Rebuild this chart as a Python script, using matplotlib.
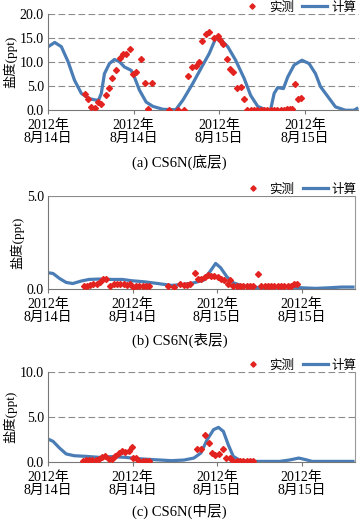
import matplotlib
matplotlib.use('Agg')
import matplotlib.pyplot as plt
from matplotlib.transforms import ScaledTranslation

plt.rcParams['font.family'] = ['Liberation Serif', 'Noto Sans CJK SC']

# x in hours from the first tick (2012-08-14)
tick_hours = [0, 12, 24, 36]
tick_labels = ['2012年\n8月14日', '2012年\n8月14日', '2012年\n8月15日', '2012年\n8月15日']

# (a) bottom layer
a_calc_h = [0.0, 0.93, 1.86, 2.8, 3.7, 4.66, 5.8, 6.76, 7.1, 7.46, 7.9, 8.6, 9.3, 10.0, 10.7, 11.65, 12.1,
            12.8, 13.75, 14.7, 16.1, 17.9, 18.9, 20.3, 21.7, 22.6, 23.4, 23.8, 24.2, 25.2, 26.3, 27.5, 28.4,
            29.4, 30.5, 31.2, 31.7, 32.2, 33.0, 33.6, 34.5, 35.6, 36.6, 37.5, 38.2, 39.1, 40.3, 41.7, 42.9, 43.3]
a_calc_v = [13.2, 14.1, 13.2, 10.1, 6.25, 3.5, 2.4, 2.1, 2.2, 3.5, 7.6, 9.7, 10.55, 10.1, 9.0, 8.3, 6.9,
            4.2, 1.7, 0.8, 0.2, 0.1, 2.1, 5.6, 9.4, 11.8, 14.6, 15.1, 14.7, 13.2, 10.4, 6.6, 3.1,
            0.8, 0.1, 0.1, 3.5, 4.7, 4.5, 6.9, 9.4, 10.4, 9.7, 7.6, 4.9, 3.1, 0.7, 0.0, 0.0, 0.35]
a_obs_h = [5.13, 5.59, 6.06, 6.52, 6.99, 7.46, 8.06, 8.53, 8.99, 9.46, 10.02, 10.48, 10.95, 11.51, 11.88,
           12.35, 13.05, 13.61, 14.07, 14.54, 17.01, 18.17, 19.01, 19.57, 20.18, 20.74, 21.2, 21.58, 22.13,
           22.6, 23.21, 23.77, 24.09, 24.56, 25.02, 25.49, 25.96, 26.56, 27.03, 27.49, 27.96, 28.42, 28.89,
           29.36, 29.82, 30.29, 30.75, 31.22, 31.69, 32.15, 32.62, 33.08, 33.55, 33.92, 34.25, 34.62, 35.04, 35.51]
a_obs_v = [3.3, 2.3, 0.7, 0.5, 1.7, 1.2, 3.1, 4.7, 6.6, 8.3, 10.8, 11.7, 11.7, 12.8, 7.5,
           8.0, 10.6, 5.6, 0.35, 5.6, 0.0, 0.1, 0.1, 7.1, 9.0, 9.2, 10.1, 14.4, 15.8,
           16.2, 15.1, 15.4, 14.6, 13.75, 10.6, 8.5, 8.0, 4.65, 4.9, 2.4, 0.1, 0.1, 0.1,
           0.1, 0.1, 0.1, 0.1, 0.1, 0.1, 0.1, 0.1, 0.1, 0.2, 0.3, 0.35, 5.4, 2.3, 2.5]

# (b) surface layer
b_calc_h = [0.0, 0.7, 1.63, 2.56, 3.5, 4.66, 5.8, 7.2, 9.1, 10.5, 11.9, 13.75, 15.6, 17.5, 19.3, 20.7, 22.1,
            23.1, 23.8, 24.5, 25.4, 26.3, 27.7, 29.6, 31.5, 33.8, 36.1, 38.0, 39.8, 41.7, 43.3]
b_calc_v = [0.88, 0.84, 0.57, 0.36, 0.3, 0.43, 0.52, 0.54, 0.52, 0.52, 0.45, 0.39, 0.3, 0.2, 0.25, 0.34, 0.48,
            1.0, 1.38, 1.15, 0.66, 0.34, 0.16, 0.09, 0.09, 0.13, 0.07, 0.04, 0.07, 0.11, 0.11]
b_obs_h = [5.03, 5.5, 5.96, 6.43, 6.9, 7.36, 7.83, 8.29, 8.85, 9.32, 9.79, 10.25, 10.72, 11.18, 11.65, 12.12,
           12.49, 12.95, 13.42, 13.89, 14.35, 17.01, 17.94, 18.78, 19.24, 19.71, 20.18, 20.83, 21.3, 21.76,
           22.23, 22.7, 23.16, 23.63, 24.09, 24.56, 25.02, 25.49, 25.86, 26.33, 26.79, 27.26, 27.73, 28.19,
           28.66, 29.12, 29.82, 30.29, 30.75, 31.22, 31.69, 32.15, 32.62, 33.08, 33.55, 34.02, 34.48, 34.95, 35.41]
b_obs_v = [0.16, 0.16, 0.2, 0.25, 0.3, 0.4, 0.57, 0.57, 0.18, 0.27, 0.3, 0.3, 0.27, 0.2, 0.3, 0.13,
           0.16, 0.18, 0.16, 0.16, 0.16, 0.16, 0.09, 0.25, 0.2, 0.2, 0.25, 0.88, 0.57, 0.57,
           0.66, 0.75, 0.7, 0.72, 0.66, 0.57, 0.48, 0.3, 0.48, 0.16, 0.16, 0.16, 0.16, 0.16,
           0.16, 0.16, 0.79, 0.16, 0.16, 0.16, 0.16, 0.16, 0.16, 0.16, 0.16, 0.16, 0.16, 0.27, 0.3]

# (c) middle layer
c_calc_h = [0.0, 0.7, 1.63, 2.56, 3.7, 5.4, 7.2, 9.1, 10.95, 12.8, 15.1, 17.5, 19.3, 20.7, 21.7, 22.6, 23.5,
            24.2, 24.9, 25.6, 26.3, 27.3, 29.6, 32.9, 34.25, 35.6, 36.6, 37.5, 39.8, 43.3]
c_calc_v = [2.55, 2.3, 1.55, 0.9, 0.7, 0.63, 0.52, 0.6, 0.52, 0.37, 0.26, 0.15, 0.22, 0.44, 1.0, 2.5, 3.6,
            3.85, 3.4, 1.9, 0.63, 0.15, 0.07, 0.07, 0.22, 0.44, 0.26, 0.07, 0.07, 0.07]
c_obs_h = [4.89, 5.36, 5.82, 6.29, 6.76, 7.22, 7.69, 8.15, 8.62, 9.09, 9.55, 10.02, 10.48, 10.95, 11.42, 11.88,
           12.12, 12.44, 12.95, 13.42, 13.89, 14.35, 21.2, 21.76, 22.23, 22.83, 23.3, 23.77, 24.23, 24.84,
           25.3, 25.77, 26.23, 26.79, 27.26, 27.73, 28.19, 28.66, 29.12]
c_obs_v = [0.15, 0.19, 0.22, 0.26, 0.26, 0.37, 0.55, 0.63, 0.33, 0.33, 0.63, 1.0, 1.18, 1.1, 1.26, 1.63,
           0.44, 0.44, 0.15, 0.15, 0.15, 0.15, 1.48, 1.44, 2.96, 2.1, 1.0, 0.81, 0.93, 1.44,
           0.44, 0.44, 0.15, 0.15, 0.15, 0.15, 0.15, 0.15, 0.15]

panels = [
    ('(a) CS6N(底层)', a_calc_h, a_calc_v, a_obs_h, a_obs_v, 20, [0, 5, 10, 15, 20]),
    ('(b) CS6N(表层)', b_calc_h, b_calc_v, b_obs_h, b_obs_v, 5, [0, 5]),
    ('(c) CS6N(中层)', c_calc_h, c_calc_v, c_obs_h, c_obs_v, 10, [0, 5, 10]),
]
# axes boxes in figure fractions: left, bottom, width, height
boxes = [(0.134, 0.788, 0.866, 0.185),
         (0.134, 0.444, 0.855, 0.179),
         (0.134, 0.1115, 0.855, 0.173)]
title_y = [0.688, 0.346, 0.016]

fig = plt.figure(figsize=(3.59, 5.20), dpi=100)
line_color = '#4a7db5'
dot_color = '#e2231f'
shift = ScaledTranslation(4 / 100, 0, fig.dpi_scale_trans)

for i, ((title, ch, cv, oh, ov, ymax, yt), box, ty) in enumerate(zip(panels, boxes, title_y)):
    ax = fig.add_axes(box)
    ax.plot(ch, cv, color=line_color, lw=2.3, label='计算', zorder=2)
    ax.plot(oh, ov, ls='none', marker='D', ms=3.0, color=dot_color, label='实测', zorder=3)
    ax.set_xlim(0, 43.6)
    ax.set_ylim(0, ymax)
    ax.set_yticks(yt)
    ax.set_yticklabels([f'{v:.1f}' for v in yt], fontsize=10)
    ax.set_xticks(tick_hours)
    ax.set_xticklabels(tick_labels, fontsize=10, linespacing=1.0)
    for lab in ax.get_xticklabels():
        lab.set_transform(lab.get_transform() + shift)
    ax.tick_params(axis='y', length=0, pad=3)
    ax.tick_params(axis='x', length=3, direction='out', pad=3.5, color='#777777')
    for v in yt[1:]:
        if i == 1:
            ax.axhline(v, color='#8a8a8a', lw=0.8, zorder=1)
        else:
            ax.axhline(v, color='#8a8a8a', lw=0.8, ls=(0, (6, 3)), zorder=1)
    for s in ['top', 'right']:
        ax.spines[s].set_visible(False)
    if i > 0:
        ax.spines['right'].set_visible(True)
        ax.spines['right'].set_color('#999999')
        ax.spines['right'].set_linewidth(0.8)
    for s in ['left', 'bottom']:
        ax.spines[s].set_color('#777777')
        ax.spines[s].set_linewidth(0.8)
    ax.set_ylabel('盐度(ppt)', fontsize=9.5, labelpad=2)
    handles, labels = ax.get_legend_handles_labels()
    right = 0.995 / (box[0] + box[2]) if i == 0 else 1.0 + (0.997 - box[0] - box[2]) / box[2]
    ax.legend(handles[::-1], labels[::-1], loc='lower right', bbox_to_anchor=(right, 0.99), ncol=2,
              frameon=False, fontsize=9, handlelength=2.0, handletextpad=0.3, columnspacing=0.7,
              borderpad=0.1, borderaxespad=0, markerscale=0.9)
    fig.text(0.5, ty, title, ha='center', va='center', fontsize=10.5)

fig.savefig('out.png', dpi=100)
